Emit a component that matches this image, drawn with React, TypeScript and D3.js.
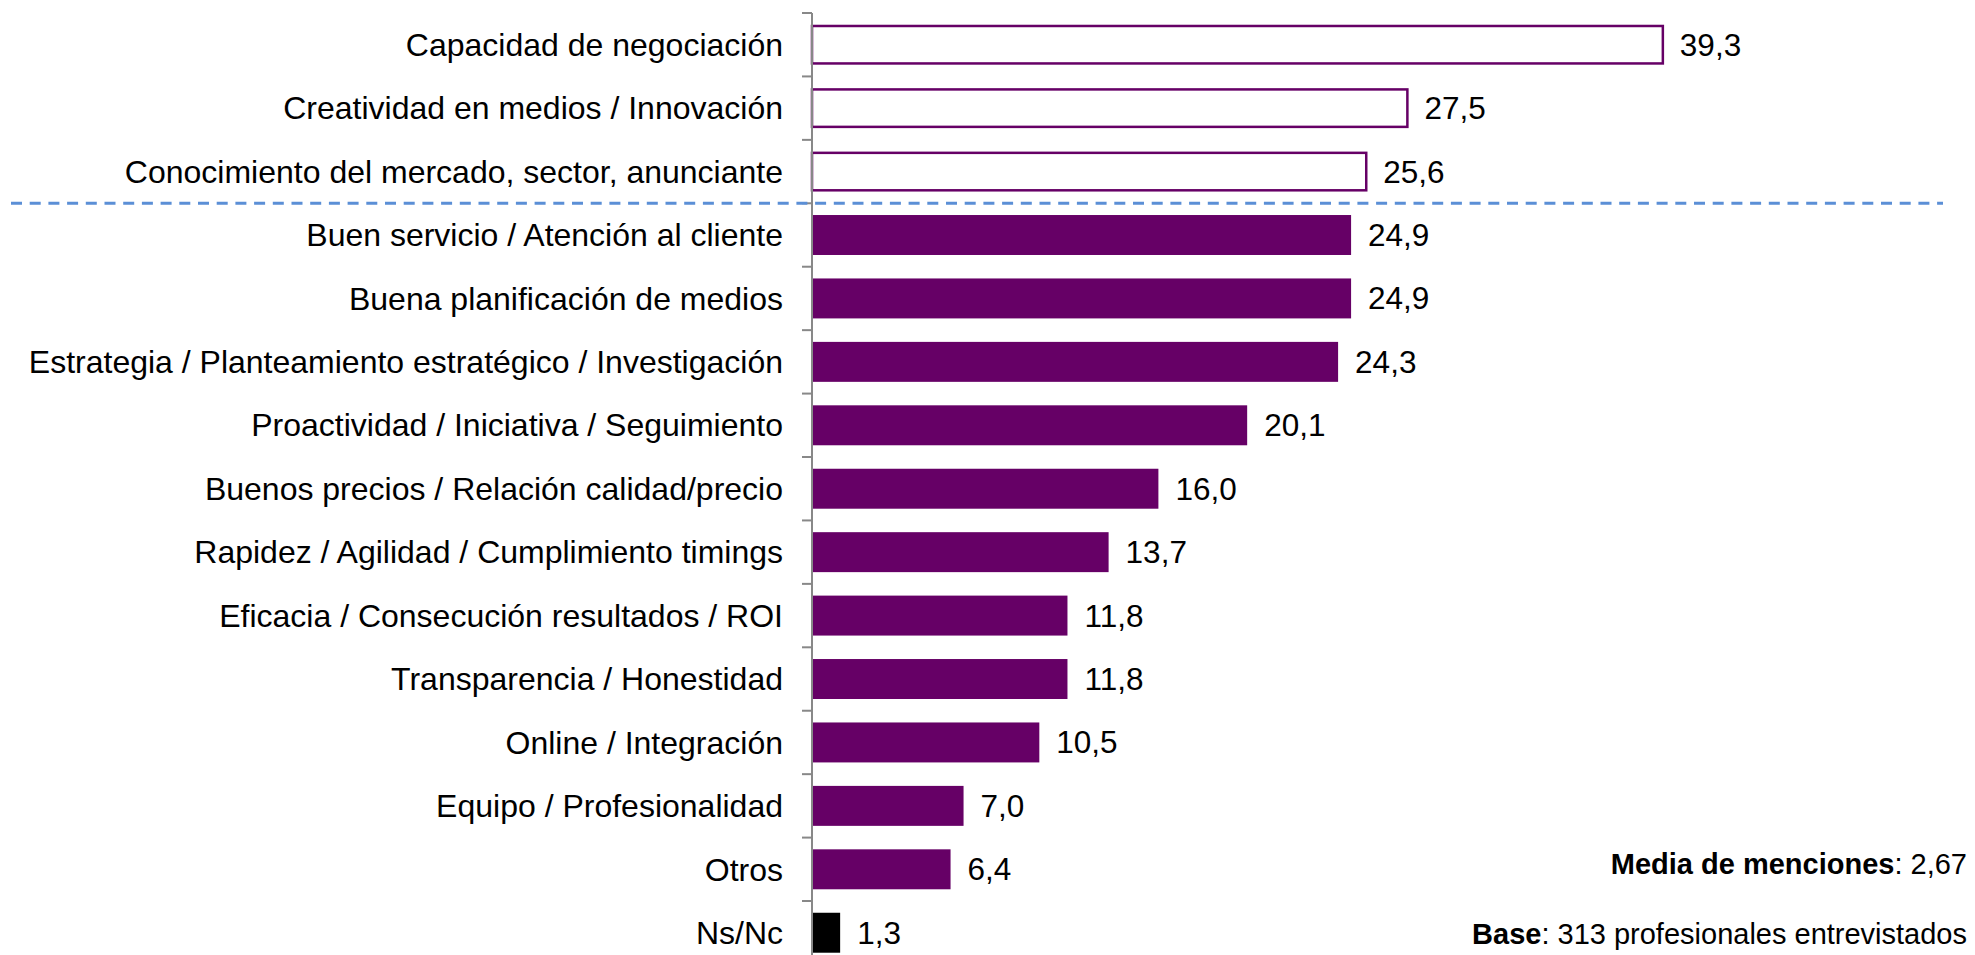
import * as d3 from "d3";

const categories = [
  "Capacidad de negociación",
  "Creatividad en medios / Innovación",
  "Conocimiento del mercado, sector, anunciante",
  "Buen servicio / Atención al cliente",
  "Buena planificación de medios",
  "Estrategia / Planteamiento estratégico / Investigación",
  "Proactividad / Iniciativa / Seguimiento",
  "Buenos precios / Relación calidad/precio",
  "Rapidez / Agilidad / Cumplimiento timings",
  "Eficacia / Consecución resultados / ROI",
  "Transparencia / Honestidad",
  "Online / Integración",
  "Equipo / Profesionalidad",
  "Otros",
  "Ns/Nc",
];

const values = [39.3, 27.5, 25.6, 24.9, 24.9, 24.3, 20.1, 16.0, 13.7, 11.8, 11.8, 10.5, 7.0, 6.4, 1.3];

// first three are highlighted (outlined), last one is Ns/Nc
const outlined = categories.slice(0, 3);
const noAnswer = "Ns/Nc";

const mediaLabel = "Media de menciones";
const mediaValue = "2,67";
const baseLabel = "Base";
const baseValue = "313 profesionales entrevistados";

const W = 1975,
  H = 955;
const FONT = "'Liberation Sans', Arial, sans-serif";
const PURPLE = "#660066";

const App = () => {
  const x0 = 812;
  const x = d3.scaleLinear().domain([0, 40]).range([x0, x0 + 40 * 21.65]);
  const y = d3
    .scaleBand<string>()
    .domain(categories)
    .range([13, 13 + 15 * 63.43])
    .paddingInner(0.37)
    .paddingOuter(0.185);

  const step = y.step();
  const gapHalf = (step - y.bandwidth()) / 2;
  const fmt = (v: number) => d3.format(".1f")(v).replace(".", ",");

  // dashed separator under the highlighted group
  const sepY = (y(outlined[outlined.length - 1]) as number) + y.bandwidth() + gapHalf;

  return (
    <svg
      width={W}
      height={H}
      style={{ position: "absolute", left: 0, top: 0, background: "#fff" }}
      fontFamily={FONT}
    >
      {/* bars */}
      {categories.map((c, i) => {
        const isOut = outlined.includes(c);
        const by = y(c) as number;
        return (
          <g key={c}>
            <rect
              x={x(0)}
              y={isOut ? by + 1.25 : by}
              width={x(values[i]) - x(0)}
              height={isOut ? y.bandwidth() - 2.5 : y.bandwidth()}
              fill={isOut ? "#fff" : c === noAnswer ? "#000" : PURPLE}
              stroke={isOut ? PURPLE : "none"}
              strokeWidth={2.5}
            />
            <text
              x={783}
              y={by + y.bandwidth() / 2}
              dy="0.35em"
              textAnchor="end"
              fontSize={32}
              fill="#000"
            >
              {c}
            </text>
            <text
              x={x(values[i]) + 17}
              y={by + y.bandwidth() / 2}
              dy="0.35em"
              fontSize={31.5}
              fill="#000"
            >
              {fmt(values[i])}
            </text>
          </g>
        );
      })}

      {/* axis */}
      <line x1={x0} x2={x0} y1={13} y2={H} stroke="#888" strokeWidth={2} />
      {d3.range(categories.length).map((i) => {
        const ty = 13 + i * step;
        return <line key={i} x1={x0 - 10} x2={x0} y1={ty} y2={ty} stroke="#888" strokeWidth={2} />;
      })}

      {/* separator */}
      <line
        x1={11}
        x2={1943}
        y1={sepY}
        y2={sepY}
        stroke="#5B8FD6"
        strokeWidth={3}
        strokeDasharray="11,7.7"
      />

      {/* notes */}
      <text x={1967} y={874} textAnchor="end" fontSize={29} fill="#000">
        <tspan fontWeight="bold">{mediaLabel}</tspan>: {mediaValue}
      </text>
      <text x={1967} y={944} textAnchor="end" fontSize={29} fill="#000">
        <tspan fontWeight="bold">{baseLabel}</tspan>: {baseValue}
      </text>
    </svg>
  );
};

export default App;
